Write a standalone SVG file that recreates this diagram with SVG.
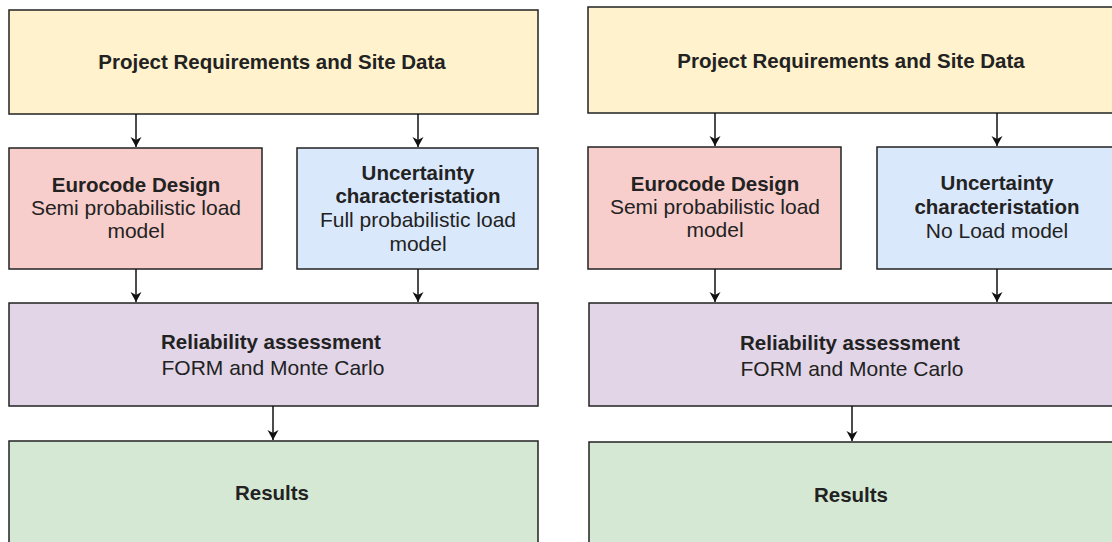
<svg xmlns="http://www.w3.org/2000/svg" width="1112" height="542" viewBox="0 0 1112 542">
<defs>
<marker id="arr" markerWidth="12" markerHeight="12" refX="10" refY="6" orient="auto" markerUnits="userSpaceOnUse">
<path d="M0,0.5 L10,6 L0,11.5 L3,6 Z" fill="#111"/>
</marker>
<style>
.box{stroke:#222;stroke-width:1.5}
.yel{fill:#fff2cc}.red{fill:#f8cecc}.blu{fill:#dae8fc}.pur{fill:#e1d5e7}.grn{fill:#d5e8d4}
text{font-family:"Liberation Sans",Arial,sans-serif;font-size:21px;fill:#222;text-anchor:middle}
.b{font-weight:bold;font-size:20.5px}
.c line{stroke:#111;stroke-width:1.5;marker-end:url(#arr)}
</style>
</defs>
<rect width="1112" height="542" fill="#fff"/>
<g id="left-top"><rect class="box yel" x="9" y="10" width="529" height="104"/><text class="b" x="272" y="69">Project Requirements and Site Data</text></g>
<g id="left-eurocode"><rect class="box red" x="9" y="148" width="253" height="121"/><text class="b" x="136" y="192">Eurocode Design</text><text x="136" y="215">Semi probabilistic load</text><text x="136" y="238">model</text></g>
<g id="left-uncert"><rect class="box blu" x="297" y="148" width="241" height="121"/><text class="b" x="418" y="180">Uncertainty</text><text class="b" x="418" y="203">characteristation</text><text x="418" y="227">Full probabilistic load</text><text x="418" y="251">model</text></g>
<g id="left-rel"><rect class="box pur" x="9" y="303" width="529" height="103"/><text class="b" x="271" y="349">Reliability assessment</text><text x="273" y="375">FORM and Monte Carlo</text></g>
<g id="left-res"><rect class="box grn" x="9" y="441" width="529" height="120"/><text class="b" x="272" y="500">Results</text></g>

<g id="right-top"><rect class="box yel" x="588" y="7" width="540" height="106"/><text class="b" x="851" y="68">Project Requirements and Site Data</text></g>
<g id="right-eurocode"><rect class="box red" x="588" y="147" width="253" height="122"/><text class="b" x="715" y="191">Eurocode Design</text><text x="715" y="214">Semi probabilistic load</text><text x="715" y="237">model</text></g>
<g id="right-uncert"><rect class="box blu" x="877" y="147" width="250" height="122"/><text class="b" x="997" y="190">Uncertainty</text><text class="b" x="997" y="214">characteristation</text><text x="997" y="238">No Load model</text></g>
<g id="right-rel"><rect class="box pur" x="589" y="303" width="540" height="103"/><text class="b" x="850" y="350">Reliability assessment</text><text x="852" y="376">FORM and Monte Carlo</text></g>
<g id="right-res"><rect class="box grn" x="589" y="442" width="540" height="120"/><text class="b" x="851" y="502">Results</text></g>

<g id="connectors" class="c">
<line x1="136" y1="114" x2="136" y2="147"/>
<line x1="418" y1="114" x2="418" y2="147"/>
<line x1="136" y1="269" x2="136" y2="302"/>
<line x1="418" y1="269" x2="418" y2="302"/>
<line x1="273" y1="406" x2="273" y2="440"/>
<line x1="715" y1="113" x2="715" y2="146"/>
<line x1="997" y1="113" x2="997" y2="146"/>
<line x1="715" y1="269" x2="715" y2="302"/>
<line x1="997" y1="269" x2="997" y2="302"/>
<line x1="852" y1="406" x2="852" y2="441"/>
</g>
</svg>
